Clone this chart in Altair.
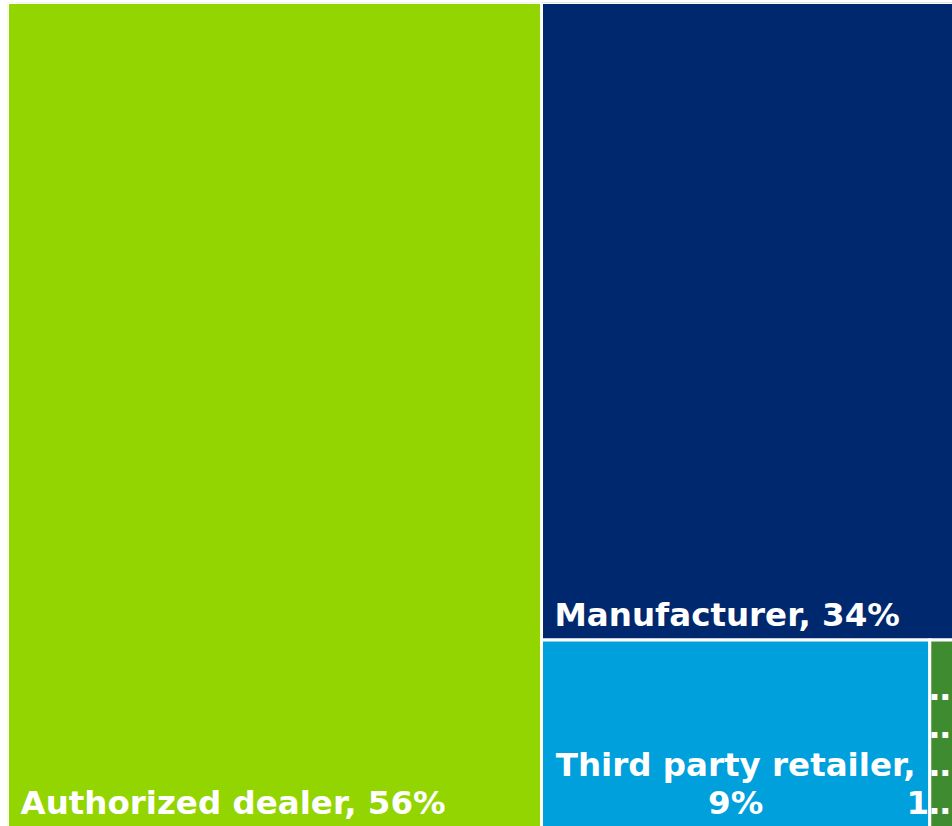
import altair as alt
import pandas as pd

# ---- data ----
categories = ["Authorized dealer", "Manufacturer", "Third party retailer", "Other online market"]
shares = [56.45, 33.65, 9.33, 0.57]          # estimated underlying shares (%)
pct_labels = ["56%", "34%", "9%", "1%"]       # shown labels
label_lines = [
    ["Authorized dealer, 56%"],
    ["Manufacturer, 34%"],
    ["Third party retailer,", "9%"],
    ["Other", "Online", "Market,", "1%"],
]
label_style = ["left", "left", "center", "right"]
colors = ["#93D500", "#00286E", "#00A0DD", "#3F8B30"]

FONT_SIZE = 32.5
LINE_H = 38

# ---- squarified treemap layout (computed) ----
BOX_W, BOX_H = 946.0, 825.0
VIEW_W, VIEW_H = 944.5, 823.5


def worst(row, side):
    s = sum(row)
    return max(max(side * side * r / (s * s), s * s / (side * side * r)) for r in row)


def squarify(vals, x, y, w, h):
    total = sum(vals)
    areas = [v / total * w * h for v in vals]
    rects = []
    rem = areas[:]
    while rem:
        side = min(w, h)
        row = [rem[0]]
        i = 1
        while i < len(rem) and worst(row + [rem[i]], side) <= worst(row, side):
            row.append(rem[i])
            i += 1
        s = sum(row)
        if w >= h:
            cw = s / h
            yy = y
            for r in row:
                rh = r / cw
                rects.append((x, yy, x + cw, yy + rh))
                yy += rh
            x += cw
            w -= cw
        else:
            rh = s / w
            xx = x
            for r in row:
                rw = r / rh
                rects.append((xx, y, xx + rw, y + rh))
                xx += rw
            y += rh
            h -= rh
        rem = rem[i:]
    return rects


rects = squarify(shares, 0.0, 0.0, BOX_W, BOX_H)

df = pd.DataFrame({
    "category": categories,
    "share": shares,
    "pct": pct_labels,
    "lines": label_lines,
    "style": label_style,
    "x0": [r[0] for r in rects],
    "y0": [r[1] for r in rects],
    "x1": [r[2] for r in rects],
    "y1": [r[3] for r in rects],
})
df["cx"] = (df["x0"] + df["x1"]) / 2
# anchor of the first label line so that the last line sits at the cell bottom
df["ty"] = df["y1"] - (df["lines"].apply(len) - 1) * LINE_H

xs = alt.Scale(domain=[0, VIEW_W], nice=False, zero=False)
ys = alt.Scale(domain=[0, VIEW_H], nice=False, zero=False, reverse=True)

base = alt.Chart(df)

rect = base.mark_rect(stroke="white", strokeWidth=3, clip=True).encode(
    x=alt.X("x0:Q", scale=xs, axis=None),
    x2="x1:Q",
    y=alt.Y("y0:Q", scale=ys, axis=None),
    y2="y1:Q",
    color=alt.Color("category:N", scale=alt.Scale(domain=categories, range=colors), legend=None),
    tooltip=["category:N", "pct:N"],
)

text_common = dict(font="DejaVu Sans", fontSize=FONT_SIZE, fontWeight="bold", color="white",
                   baseline="alphabetic", lineHeight=LINE_H)

t_left = base.transform_filter(alt.datum.style == "left").mark_text(
    align="left", dx=13, dy=-14, **text_common
).encode(x=alt.X("x0:Q", scale=xs), y=alt.Y("ty:Q", scale=ys), text="lines")

t_center = base.transform_filter(alt.datum.style == "center").mark_text(
    align="center", dy=-13.5, **text_common
).encode(x=alt.X("cx:Q", scale=xs), y=alt.Y("ty:Q", scale=ys), text="lines")

t_right = base.transform_filter(alt.datum.style == "right").mark_text(
    align="right", dx=8, dy=-14, limit=55.15, **text_common
).encode(x=alt.X("x1:Q", scale=xs), y=alt.Y("ty:Q", scale=ys), text="lines")

chart = alt.layer(rect, t_left, t_center, t_right).properties(
    width=VIEW_W,
    height=VIEW_H,
    padding={"left": 7.5, "top": 2.5, "right": 0, "bottom": 0},
    autosize=alt.AutoSizeParams(type="none"),
).configure_view(stroke=None)

chart.save("out.html", embed_options={"renderer": "svg", "actions": False})
